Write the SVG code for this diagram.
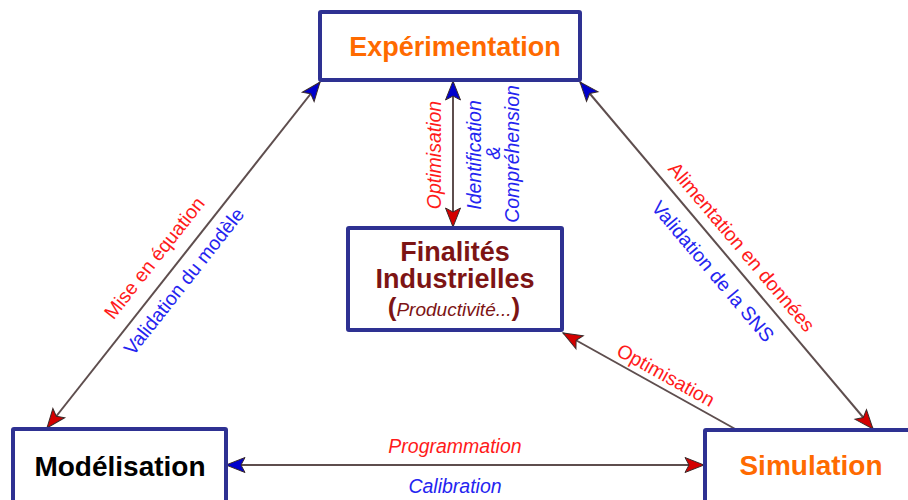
<svg xmlns="http://www.w3.org/2000/svg" width="908" height="500" viewBox="0 0 908 500">
<style>
.box{fill:#ffffff;stroke:#2e3192;stroke-width:4}
.title{font-family:"Liberation Sans",Arial,sans-serif;font-weight:bold;text-anchor:middle}
.orange{fill:#ff6a00}
.lbl{font-family:"Liberation Sans",Arial,sans-serif;font-size:19.5px;text-anchor:middle}
.red{fill:#ff1a1a}
.blue{fill:#2424f0}
.conn{stroke:#5e4e4e;stroke-width:2;fill:none}
</style>
<defs>
<marker id="hr" markerUnits="userSpaceOnUse" markerWidth="22" markerHeight="18" refX="19" refY="7.5" orient="auto-start-reverse" overflow="visible">
<path d="M0,0 L19,7.5 L0,15 L4,7.5 z" fill="#d40000" stroke="#3a2a2a" stroke-width="1"/>
</marker>
<marker id="hb" markerUnits="userSpaceOnUse" markerWidth="22" markerHeight="18" refX="19" refY="7.5" orient="auto-start-reverse" overflow="visible">
<path d="M0,0 L19,7.5 L0,15 L4,7.5 z" fill="#0000cc" stroke="#3a2a2a" stroke-width="1"/>
</marker>
</defs>
<rect width="908" height="500" fill="#ffffff"/>
<g id="connectors">
<line class="conn" x1="47" y1="428" x2="320" y2="82" marker-start="url(#hr)" marker-end="url(#hb)"/>
<line class="conn" x1="580" y1="82" x2="873" y2="429" marker-start="url(#hb)" marker-end="url(#hr)"/>
<line class="conn" x1="453" y1="81" x2="453" y2="227" marker-start="url(#hb)" marker-end="url(#hr)"/>
<line class="conn" x1="226" y1="465" x2="704" y2="465" marker-start="url(#hb)" marker-end="url(#hr)"/>
<line class="conn" x1="737" y1="430" x2="563" y2="333" marker-end="url(#hr)"/>
<text class="lbl red" transform="translate(159.6,262.1) rotate(-51.7)">Mise en équation</text>
<text class="lbl blue" transform="translate(189.2,285.5) rotate(-51.7)">Validation du modèle</text>
<text class="lbl red" transform="translate(736.6,251.3) rotate(49.8)">Alimentation en données</text>
<text class="lbl blue" transform="translate(707.8,275.7) rotate(49.8)">Validation de la SNS</text>
<text class="lbl red" transform="translate(662.6,381) rotate(29.1)">Optimisation</text>
<text class="lbl red" font-style="italic" transform="translate(441,155) rotate(-90)">Optimisation</text>
<text class="lbl blue" font-style="italic" transform="translate(481,155) rotate(-90)">Identification</text>
<text class="lbl blue" font-style="italic" transform="translate(500,153) rotate(-90)">&amp;</text>
<text class="lbl blue" font-style="italic" transform="translate(519,154) rotate(-90)">Compréhension</text>
<text class="lbl red" font-style="italic" x="455" y="453">Programmation</text>
<text class="lbl blue" font-style="italic" x="455" y="493">Calibration</text>
</g>
<g id="experimentation">
<rect class="box" x="320" y="12" width="260" height="68" rx="1"/>
<text class="title orange" x="455" y="56" font-size="27">Expérimentation</text>
</g>
<g id="finalites">
<rect class="box" x="348" y="228" width="214" height="102" rx="1"/>
<text class="title" fill="#7d1414" x="455" y="261" font-size="27">Finalités</text>
<text class="title" fill="#7d1414" x="455" y="288" font-size="27">Industrielles</text>
<text class="title" fill="#7d1414" x="454" y="316"><tspan font-size="26">(</tspan><tspan font-size="19" font-weight="normal" font-style="italic">Productivité...</tspan><tspan font-size="26">)</tspan></text>
</g>
<g id="modelisation">
<rect class="box" x="13" y="429" width="213" height="90" rx="1"/>
<text class="title" fill="#000000" x="120" y="476" font-size="28">Modélisation</text>
</g>
<g id="simulation">
<rect class="box" x="705" y="430" width="220" height="90" rx="1"/>
<text class="title orange" x="811" y="475" font-size="28">Simulation</text>
</g>
</svg>
